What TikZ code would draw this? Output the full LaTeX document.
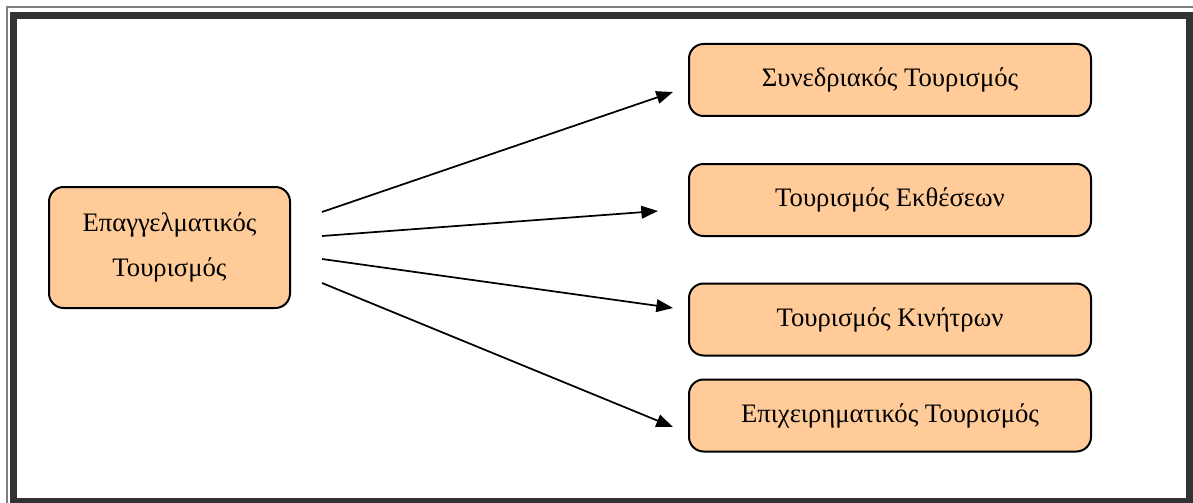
\documentclass[tikz,border=0pt]{standalone}
\usepackage{fontspec}
\setmainfont{Liberation Serif}
\usetikzlibrary{arrows.meta}

\definecolor{boxpeach}{RGB}{255,204,153}
\definecolor{framedark}{RGB}{51,51,51}
\definecolor{framegray}{RGB}{128,128,128}

\tikzset{
  tourbox/.style={draw, line width=1.5, rounded corners=11, fill=boxpeach, inner sep=0, align=center, font=\fontsize{20}{34}\selectfont},
  tourarrow/.style={line width=1.3, -{Triangle[length=12.5pt, width=9.5pt]}}
}

\begin{document}
\begin{tikzpicture}[x=0.75pt,y=0.75pt,yscale=-1,xscale=1]
\useasboundingbox (0,0) rectangle (1193,503);
\clip (0,0) rectangle (1193,503);

%Frame
\draw [color=framegray, line width=1.5] (6.5,520) -- (6.5,7.5) -- (1210,7.5) ;
\draw [color=framedark, line width=5.25] (13.5,501.5) rectangle (1189.5,15.5) ;

%Left box
\node [tourbox, minimum width=180.75pt, minimum height=90.75pt] (prof) at (169.5,247.5) {Επαγγελματικός\\Τουρισμός};

%Right boxes
\node [tourbox, minimum width=301.5pt, minimum height=54pt] (conf) at (890,80) {Συνεδριακός Τουρισμός};
\node [tourbox, minimum width=301.5pt, minimum height=54pt] (expo) at (890,200) {Τουρισμός Εκθέσεων};
\node [tourbox, minimum width=301.5pt, minimum height=54pt] (incent) at (890,319.5) {Τουρισμός Κινήτρων};
\node [tourbox, minimum width=301.5pt, minimum height=54pt] (busi) at (890,415.5) {Επιχειρηματικός Τουρισμός};

%Arrow ends
\coordinate (confS) at (322,212);
\coordinate (confE) at (673,92);
\coordinate (expoS) at (322,236);
\coordinate (expoE) at (658,211);
\coordinate (incentS) at (322,259);
\coordinate (incentE) at (673,308);
\coordinate (busiS) at (322,283);
\coordinate (busiE) at (673,427);

%Arrows
\draw [tourarrow] (confS) -- (confE) ;
\draw [tourarrow] (expoS) -- (expoE) ;
\draw [tourarrow] (incentS) -- (incentE) ;
\draw [tourarrow] (busiS) -- (busiE) ;

\end{tikzpicture}
\end{document}
